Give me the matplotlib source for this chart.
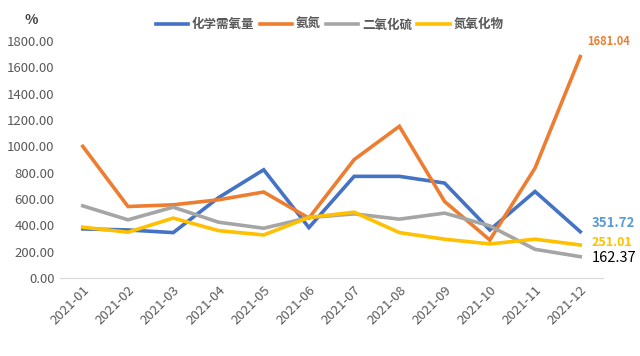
import matplotlib
matplotlib.use("Agg")
import matplotlib.pyplot as plt

plt.rcParams['font.family'] = ['Noto Sans CJK SC', 'DejaVu Sans']

months = ["2021-01", "2021-02", "2021-03", "2021-04", "2021-05", "2021-06",
          "2021-07", "2021-08", "2021-09", "2021-10", "2021-11", "2021-12"]
cod = [373, 365, 345, 610, 822, 383, 772, 772, 721, 365, 657, 351.72]
ammonia = [1000, 543, 556, 594, 653, 455, 899, 1152, 581, 289, 835, 1681.04]
so2 = [548, 442, 538, 424, 378, 459, 487, 447, 493, 396, 218, 162.37]
nox = [386, 348, 455, 360, 327, 460, 500, 345, 295, 259, 295, 251.01]

names = ["化学需氧量", "氨氮", "二氧化硫", "氮氧化物"]
colors = ["#4472C4", "#ED7D31", "#A5A5A5", "#FFC000"]
yticks = [0, 200, 400, 600, 800, 1000, 1200, 1400, 1600, 1800]

fig = plt.figure(figsize=(6.4, 3.56), dpi=100)
ax = fig.add_axes([0.094, 0.219, 0.848, 0.666])

x = range(len(months))
for vals, name, c in zip([cod, ammonia, so2, nox], names, colors):
    ax.plot(x, vals, color=c, lw=2.6, label=name, solid_joinstyle="miter")

ax.set_xlim(-0.5, 11.5)
ax.set_ylim(0, 1800)
ax.set_yticks(yticks)
ax.set_yticklabels([f"{v:.2f}" for v in yticks], color="#595959", fontsize=9.5)
ax.set_xticks(list(x))
ax.set_xticklabels(months, rotation=45, ha="right", rotation_mode="anchor",
                   color="#595959", fontsize=9.5)
ax.tick_params(length=0, pad=4)
for s in ["top", "right", "left"]:
    ax.spines[s].set_visible(False)
ax.spines["bottom"].set_color("#D9D9D9")

# end labels
last = len(months) - 1
ax.annotate(f"{cod[-1]:.2f}", (last, cod[-1]), xytext=(8, 6), textcoords="offset points",
            color="#5B9BD5", fontsize=9.5, fontweight="bold", va="center")
ax.annotate(f"{nox[-1]:.2f}", (last, nox[-1]), xytext=(8, 1.5), textcoords="offset points",
            color="#FFC000", fontsize=9, fontweight="bold", va="center")
ax.annotate(f"{so2[-1]:.2f}", (last, so2[-1]), xytext=(8, -1), textcoords="offset points",
            color="black", fontsize=10.5, va="center")
ax.annotate(f"{ammonia[-1]:.2f}", (last, ammonia[-1]), xytext=(5, 11), textcoords="offset points",
            color="#ED7D31", fontsize=8, fontweight="bold", va="center")

fig.text(0.038, 0.945, "%", fontsize=10, fontweight="bold", color="#404040", va="center")

leg = fig.legend(loc="center", bbox_to_anchor=(0.515, 0.93), ncol=4, frameon=False,
                 handlelength=2.6, handletextpad=0.3, columnspacing=0.4,
                 prop={"size": 9, "weight": "bold"})
for t in leg.get_texts():
    t.set_color("#595959")

fig.savefig("out.png", dpi=100)
